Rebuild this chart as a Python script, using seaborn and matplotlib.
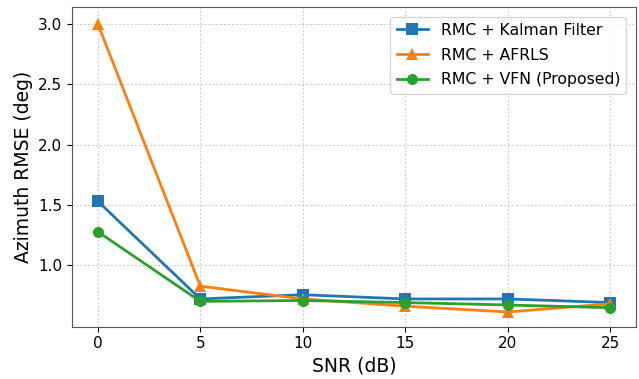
import matplotlib
matplotlib.use("Agg")
import matplotlib.pyplot as plt
import pandas as pd
import seaborn as sns

snr_db = [0, 5, 10, 15, 20, 25]
methods = ["RMC + Kalman Filter", "RMC + AFRLS", "RMC + VFN (Proposed)"]
rmse_kalman = [1.53, 0.72, 0.755, 0.72, 0.72, 0.69]
rmse_afrls = [3.00, 0.826, 0.72, 0.66, 0.612, 0.68]
rmse_vfn = [1.277, 0.70, 0.707, 0.69, 0.67, 0.647]
y_ticks = [1.0, 1.5, 2.0, 2.5, 3.0]

colors = ["#1f77b4", "#ff7f0e", "#2ca02c"]
marker_list = ["s", "^", "o"]

df = pd.DataFrame({
    "SNR (dB)": snr_db * 3,
    "Azimuth RMSE (deg)": rmse_kalman + rmse_afrls + rmse_vfn,
    "Method": [m for m in methods for _ in snr_db],
})

fig, ax = plt.subplots(figsize=(6.39, 3.79), dpi=100)
fig.subplots_adjust(left=0.113, right=0.995, top=0.981, bottom=0.138)
sns.lineplot(
    data=df, x="SNR (dB)", y="Azimuth RMSE (deg)",
    hue="Method", style="Method", hue_order=methods, style_order=methods,
    palette=colors, markers=marker_list, dashes=False,
    linewidth=2, markersize=8, markeredgewidth=0, ax=ax,
)
ax.grid(True, linestyle=(0, (2, 2)), color="#bdbdbd", alpha=0.8, linewidth=0.7)
ax.set_xlabel("SNR (dB)", fontsize=13.5)
ax.set_ylabel("Azimuth RMSE (deg)", fontsize=13.5)
ax.tick_params(labelsize=11)
ax.set_xticks(snr_db)
ax.set_yticks(y_ticks)
ax.set_xlim(-1.25, 26.25)
ax.set_ylim(0.49, 3.138)
for side in ax.spines.values():
    side.set_color("#555555")
ax.legend(loc="upper right", fontsize=11.3, labelspacing=0.62,
          borderaxespad=0.6)
fig.savefig("out.png", dpi=100)
